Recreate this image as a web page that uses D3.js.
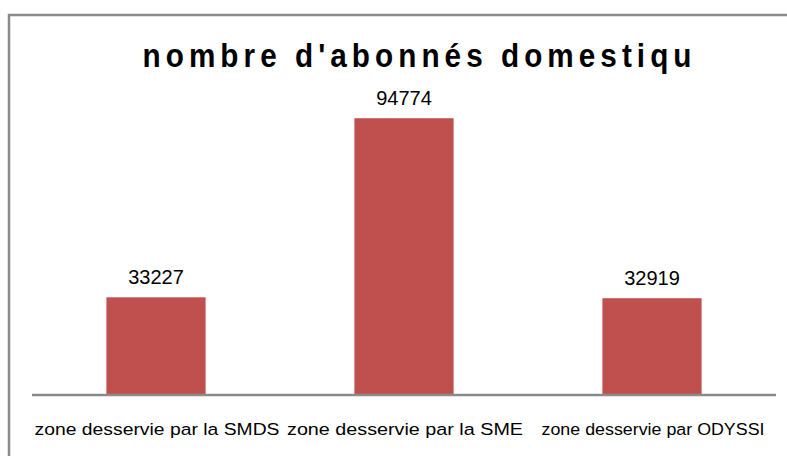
<!DOCTYPE html>
<html>
<head>
<meta charset="utf-8">
<script src="https://cdn.jsdelivr.net/npm/d3@7"></script>
<style>
  body { margin: 0; background: #fff; }
  text { font-family: "Liberation Sans", Arial, sans-serif; fill: #000; }
</style>
</head>
<body>
<script>
// data
const categories = ['zone desservie par la SMDS', 'zone desservie par la SME', 'zone desservie par ODYSSI'];
const abonnes = [33227, 94774, 32919];
const titleText = "nombre d'abonnés domestiqu";

const width = 787, height = 456;

const svg = d3.select("body").append("svg")
    .attr("width", width)
    .attr("height", height);

// chart frame (cut off on the right and bottom)
svg.append('rect')
    .attr('x', 9)
    .attr('y', 15)
    .attr('width', 900)
    .attr('height', 600)
    .attr('fill', 'none')
    .attr('stroke', '#8a8a8a')
    .attr('stroke-width', 2.5);

//scales
const xScale = d3.scaleBand()
    .domain(categories)
    .range([32, 776])
    .paddingInner(0.6)
    .paddingOuter(0.3);

const yScale = d3.scaleLinear()
    .domain([0, 100000])
    .range([394, 103]);

// bars
svg.selectAll('.bar')
    .data(abonnes)
    .enter().append('rect')
    .attr('class', 'bar')
    .attr('x', (d, i) => xScale(categories[i]))
    .attr('y', d => yScale(d))
    .attr('width', xScale.bandwidth())
    .attr('height', d => yScale(0) - yScale(d))
    .attr('fill', '#C0504D');

// value labels
svg.selectAll('.val')
    .data(abonnes)
    .enter().append('text')
    .attr('class', 'val')
    .attr('x', (d, i) => xScale(categories[i]) + xScale.bandwidth() / 2)
    .attr('y', d => yScale(d) - 13)
    .attr('text-anchor', 'middle')
    .attr('font-size', 20)
    .text(d => d);

// x axis line
svg.append('line')
    .attr('x1', 32)
    .attr('x2', 776)
    .attr('y1', yScale(0) + 1)
    .attr('y2', yScale(0) + 1)
    .attr('stroke', '#8a8a8a')
    .attr('stroke-width', 2.5);

// category labels (slightly condensed glyphs, like the original)
const labelWidths = [245, 236, 223];
const sx = 0.92;
svg.selectAll('.cat')
    .data(categories)
    .enter().append('text')
    .attr('class', 'cat')
    .attr('transform', d => `translate(${xScale(d) + xScale.bandwidth() / 2 + 1},435) scale(${sx},1)`)
    .attr('text-anchor', 'middle')
    .attr('font-size', 17)
    .attr('textLength', (d, i) => labelWidths[i] / sx)
    .attr('lengthAdjust', 'spacingAndGlyphs')
    .text(d => d);

// title
const tsx = 0.9;
svg.append('text')
    .attr('transform', `translate(417,67) scale(${tsx},1)`)
    .attr('text-anchor', 'middle')
    .attr('font-size', 33)
    .attr('font-weight', 'bold')
    .attr('textLength', 549 / tsx)
    .attr('lengthAdjust', 'spacing')
    .text(titleText);
</script>
</body>
</html>
